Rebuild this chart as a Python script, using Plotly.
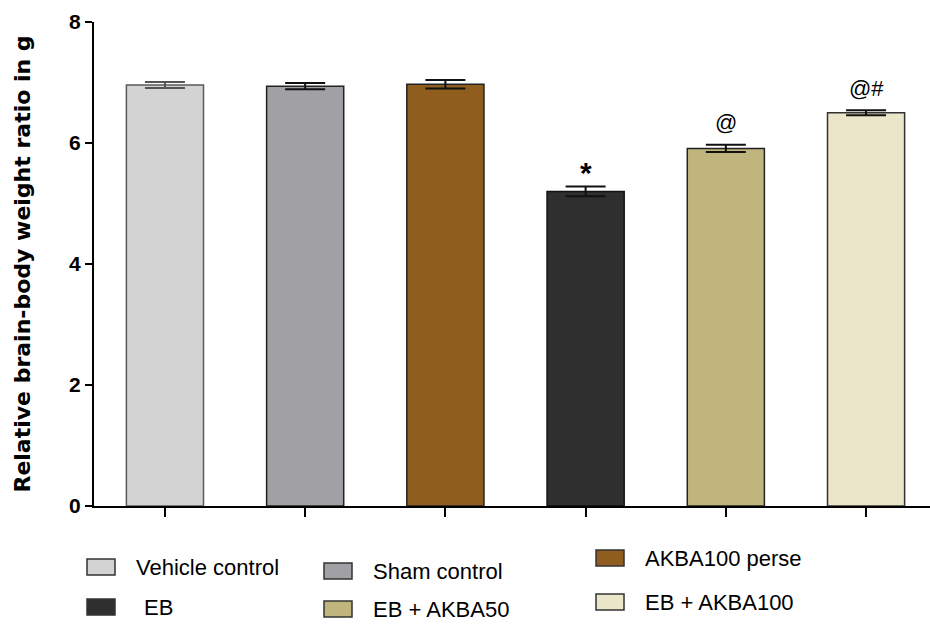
import plotly.graph_objects as go

categories = ["Vehicle control", "Sham control", "AKBA100 perse", "EB", "EB + AKBA50", "EB + AKBA100"]
means = [6.96, 6.94, 6.97, 5.20, 5.91, 6.50]
sems = [0.05, 0.05, 0.07, 0.08, 0.06, 0.04]
sig_labels = ["", "", "", "*", "@", "@#"]
y_ticks = [0, 2, 4, 6, 8]

fill_colors = ["#D3D3D3", "#A1A0A5", "#8F5E1E", "#2F2F2F", "#C0B67D", "#EBE5C9"]
line_colors = ["#5A5A5A", "#222222", "#222222", "#111111", "#222222", "#333333"]
err_colors = ["#555555", "#111111", "#111111", "#111111", "#111111", "#111111"]

SANS = "Liberation Sans, Arial, sans-serif"

fig = go.Figure()
x_pos = list(range(len(categories)))
for i, (cat, m, s) in enumerate(zip(categories, means, sems)):
    fig.add_trace(go.Bar(
        x=[x_pos[i]], y=[m], name=cat, width=0.55,
        marker=dict(color=fill_colors[i], line=dict(color=line_colors[i], width=1.5)),
        error_y=dict(type="data", array=[s], visible=True, color=err_colors[i], thickness=2, width=20),
        showlegend=False,
    ))

# significance markers
for i, lab in enumerate(sig_labels):
    if lab:
        star = lab == "*"
        fig.add_annotation(x=x_pos[i], y=means[i] + sems[i], text=lab, showarrow=False,
                           xref="x", yref="y", yanchor="middle",
                           yshift=14 if star else 22,
                           font=dict(family=SANS, size=30 if star else 22, color="#000000",
                                     weight="bold" if star else "normal"))

# manual legend (3 columns x 2 rows)
W, H, L, T = 836, 484, 94, 22
def px_to_paper(px, py):
    return (px - L) / W, (T + H - py) / H

legend_cols = [87, 324, 596]          # swatch left x (px)
legend_rows = [[567, 607], [571, 609], [558, 602]]  # centre y (px) per column
legend_order = [[0, 3], [1, 4], [2, 5]]
sw_w, sw_h = 28, 16
for c, col_x in enumerate(legend_cols):
    for r in range(2):
        idx = legend_order[c][r]
        cy = legend_rows[c][r]
        x0, y0 = px_to_paper(col_x, cy + sw_h / 2)
        x1, y1 = px_to_paper(col_x + sw_w, cy - sw_h / 2)
        fig.add_shape(type="rect", xref="paper", yref="paper", x0=x0, y0=y0, x1=x1, y1=y1,
                      fillcolor=fill_colors[idx], line=dict(color="#333333", width=1.5))
        tx, ty = px_to_paper(col_x + 47 + (8 if idx == 3 else 0), cy)
        fig.add_annotation(x=tx, y=ty, xref="paper", yref="paper", text=categories[idx],
                           showarrow=False, xanchor="left", yanchor="middle",
                           font=dict(family=SANS, size=22, color="#000000"))

fig.update_layout(
    width=930, height=624,
    margin=dict(l=L, r=0, t=T, b=624 - T - H, pad=0),
    plot_bgcolor="white", paper_bgcolor="white",
    xaxis=dict(range=[-0.506, 5.456], tickvals=x_pos, ticktext=[""] * len(x_pos),
               ticks="outside", ticklen=9, tickwidth=2, tickcolor="black",
               showline=True, linecolor="black", linewidth=2, showgrid=False, zeroline=False),
    yaxis=dict(range=[0, 8], tickvals=y_ticks, ticks="outside", ticklen=7, tickwidth=2,
               tickcolor="black", showline=True, linecolor="black", linewidth=2,
               showgrid=False, zeroline=False,
               tickfont=dict(family=SANS, size=21, color="black", weight="bold"),
               title=dict(text="Relative brain-body weight ratio in g", standoff=32,
                          font=dict(family="DejaVu Sans, sans-serif", size=22, color="black", weight="bold"))),
)

fig.write_html("out.html")
